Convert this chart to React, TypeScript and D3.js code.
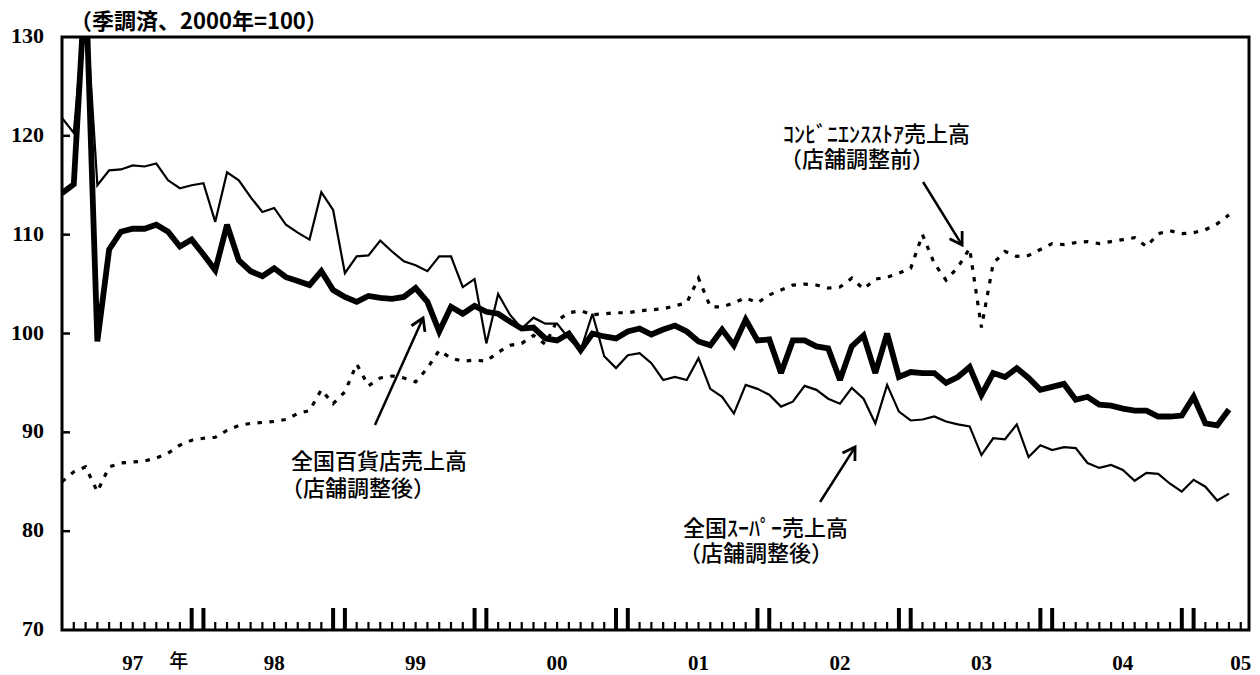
import React from 'react';
import * as d3 from 'd3';

// ---- data (monthly, Jan 1997 = index 0 ... Apr 2005 = index 99) ----
const deptStore: number[] = [
  114.2, 115.1, 136.0, 99.2, 108.5, 110.3, 110.6, 110.6, 111.0, 110.3, 108.8, 109.5,
  108.0, 106.4, 111.0, 107.4, 106.3, 105.8, 106.6, 105.7, 105.3, 104.9, 106.3, 104.4,
  103.7, 103.2, 103.8, 103.6, 103.5, 103.7, 104.6, 103.2, 100.2, 102.7, 102.0, 102.8,
  102.2, 102.0, 101.2, 100.5, 100.6, 99.5, 99.3, 100.0, 98.3, 100.0, 99.7, 99.5,
  100.2, 100.5, 99.9, 100.4, 100.8, 100.2, 99.2, 98.8, 100.4, 98.8, 101.4, 99.3,
  99.4, 96.0, 99.3, 99.3, 98.7, 98.5, 95.3, 98.7, 99.8, 96.0, 100.0, 95.6,
  96.1, 96.0, 96.0, 95.0, 95.6, 96.6, 93.8, 96.0, 95.6, 96.5, 95.5, 94.3,
  94.6, 94.9, 93.3, 93.6, 92.8, 92.7, 92.4, 92.2, 92.2, 91.6, 91.6, 91.7,
  93.6, 90.9, 90.7, 92.3,
];

const supermarket: number[] = [
  121.8, 120.3, 134.0, 115.0, 116.5, 116.6, 117.0, 116.9, 117.2, 115.5, 114.7, 115.0,
  115.2, 111.3, 116.3, 115.5, 113.8, 112.3, 112.7, 111.0, 110.2, 109.5, 114.3, 112.5,
  106.1, 107.8, 107.9, 109.4, 108.3, 107.3, 106.9, 106.3, 107.8, 107.8, 104.7, 105.5,
  99.0, 104.0, 101.9, 100.5, 101.6, 101.0, 101.0, 99.5, 98.3, 102.0, 97.7, 96.5,
  97.8, 98.0, 97.0, 95.3, 95.6, 95.3, 97.5, 94.4, 93.6, 91.9, 94.8, 94.4,
  93.8, 92.6, 93.1, 94.7, 94.3, 93.4, 92.9, 94.5, 93.4, 90.9, 94.8, 92.1,
  91.2, 91.3, 91.6, 91.1, 90.8, 90.6, 87.7, 89.4, 89.3, 90.8, 87.5, 88.7,
  88.2, 88.5, 88.4, 86.9, 86.4, 86.7, 86.2, 85.1, 85.9, 85.8, 84.8, 84.0,
  85.2, 84.5, 83.1, 83.8,
];

const convenience: number[] = [
  85.0, 86.0, 86.5, 84.0, 86.5, 86.9, 87.0, 87.1, 87.4, 87.9, 88.7, 89.2,
  89.4, 89.5, 90.2, 90.7, 90.9, 91.0, 91.1, 91.3, 91.9, 92.2, 94.3, 92.9,
  94.1, 96.9, 94.7, 95.5, 95.7, 95.5, 95.1, 96.5, 98.3, 97.5, 97.2, 97.3,
  97.2, 98.1, 98.8, 99.0, 99.8, 98.9, 101.3, 102.1, 102.3, 101.9, 102.0, 102.1,
  102.1, 102.3, 102.4, 102.5, 102.8, 103.1, 105.6, 102.7, 102.7, 103.1, 103.6, 103.1,
  103.9, 104.4, 104.9, 105.0, 104.9, 104.6, 104.7, 105.6, 104.5, 105.5, 105.7, 106.1,
  106.6, 110.0, 107.1, 105.4, 106.7, 108.6, 100.6, 107.1, 108.3, 107.8, 107.9, 108.5,
  109.1, 109.0, 109.2, 109.3, 109.1, 109.3, 109.5, 109.7, 108.8, 110.1, 110.4, 110.1,
  110.2, 110.5, 111.1, 112.0,
];

const yTickValues: number[] = [80, 90, 100, 110, 120];
const yLabelValues: number[] = [70, 80, 90, 100, 110, 120, 130];
const yearLabels: string[] = ['97', '98', '99', '00', '01', '02', '03', '04', '05'];
const yearLabelMonths: number[] = [6, 18, 30, 42, 54, 66, 78, 90, 100];
const tickMonths: number[] = d3.range(1, 101);

const titleText = '（季調済、2000年=100）';
const yearSuffix = '年';

const annotations = [
  { lines: ['全国百貨店売上高', '（店舗調整後）'], at: [19.43, 86.29], line2dx: -10, gap: 27, from: [26.55, 90.74], to: [30.63, 101.57] },
  { lines: ['全国ｽｰﾊﾟｰ売上高', '（店舗調整後）'], at: [52.69, 79.51], line2dx: -4, gap: 25, from: [64.31, 82.95], to: [67.28, 88.51] },
  { lines: ['ｺﾝﾋﾞﾆｴﾝｽｽﾄｱ売上高', '（店舗調整前）'], at: [61.17, 119.37], line2dx: -3, gap: 25, from: [73.05, 115.33], to: [76.36, 108.95] },
];

const W = 1260;
const H = 675;
const M = { left: 62, right: 11, top: 37, bottom: 45 };

const JP = "'Noto Sans CJK JP', 'Noto Sans CJK SC', sans-serif";
const NUM = "'Liberation Serif', 'DejaVu Serif', serif";

export default function App() {
  const x = d3.scaleLinear().domain([0, 100.7]).range([M.left, W - M.right]);
  const y = d3.scaleLinear().domain([70, 130]).range([H - M.bottom, M.top]);

  const line = d3
    .line<number>()
    .x((_, i) => x(i))
    .y((d) => y(d));

  const x0 = x.range()[0];
  const x1 = x.range()[1];
  const yb = y.range()[0];
  const yt = y.range()[1];

  const isTall = (m: number) => m % 12 === 11 || m % 12 === 0;

  return (
    <div style={{ position: 'absolute', left: 0, top: 0, background: '#fff' }}>
      <svg width={W} height={H} viewBox={`0 0 ${W} ${H}`} style={{ display: 'block', background: '#fff' }}>
        <defs>
          <clipPath id="plot">
            <rect x={x0} y={yt} width={x1 - x0} height={yb - yt} />
          </clipPath>
        </defs>
        <rect x={0} y={0} width={W} height={H} fill="#fff" />

        {/* title */}
        <text x={70} y={29} fontFamily={JP} fontSize={22} fontWeight={700} fill="#000">
          {titleText}
        </text>

        {/* y labels */}
        {yLabelValues.map((v) => (
          <text key={v} x={44} y={y(v) + 6} textAnchor="end" fontFamily={NUM} fontSize={22} fontWeight={700} fill="#000">
            {v}
          </text>
        ))}

        {/* series */}
        <g clipPath="url(#plot)" fill="none">
          <path d={line(convenience) || ''} stroke="#000" strokeWidth={3.2} strokeDasharray="4.5 7.5" />
          <path d={line(supermarket) || ''} stroke="#000" strokeWidth={2.2} strokeLinejoin="miter" strokeMiterlimit={3} />
          <path d={line(deptStore) || ''} stroke="#000" strokeWidth={5.8} strokeLinejoin="miter" strokeMiterlimit={2.5} />
        </g>

        {/* y ticks inside */}
        {yTickValues.map((v) => (
          <line key={v} x1={x0} x2={x0 + 8} y1={y(v)} y2={y(v)} stroke="#000" strokeWidth={2.5} />
        ))}

        {/* x ticks */}
        {tickMonths.map((m) => (
          <line
            key={m}
            x1={x(m)}
            x2={x(m)}
            y1={yb}
            y2={yb - (isTall(m) ? 22 : 8)}
            stroke="#000"
            strokeWidth={isTall(m) ? 4 : 2.2}
          />
        ))}

        {/* frame */}
        <rect x={x0} y={yt} width={x1 - x0} height={yb - yt} fill="none" stroke="#000" strokeWidth={3} />

        {/* x labels */}
        {yearLabels.map((lab, i) => (
          <text
            key={lab}
            x={x(yearLabelMonths[i])}
            y={670}
            textAnchor="middle"
            fontFamily={NUM}
            fontSize={21}
            fontWeight={700}
            fill="#000"
          >
            {lab}
          </text>
        ))}
        <text x={x(yearLabelMonths[0]) + 46} y={668} textAnchor="middle" fontFamily={JP} fontSize={19} fontWeight={500} fill="#000">
          {yearSuffix}
        </text>

        {/* annotations */}
        {annotations.map((a, i) => {
          const tx = x(a.at[0]);
          const ty = y(a.at[1]);
          const fx = x(a.from[0]);
          const fy = y(a.from[1]);
          const hx = x(a.to[0]);
          const hy = y(a.to[1]);
          const ang = Math.atan2(fy - hy, fx - hx);
          const L = 14;
          const spread = (32 * Math.PI) / 180;
          const p1 = [hx + L * Math.cos(ang + spread), hy + L * Math.sin(ang + spread)];
          const p2 = [hx + L * Math.cos(ang - spread), hy + L * Math.sin(ang - spread)];
          return (
            <g key={i}>
              <text fontFamily={JP} fontSize={22} fontWeight={500} fill="#000">
                <tspan x={tx} y={ty}>{a.lines[0]}</tspan>
                <tspan x={tx + a.line2dx} y={ty + a.gap}>{a.lines[1]}</tspan>
              </text>
              <line x1={fx} y1={fy} x2={hx} y2={hy} stroke="#000" strokeWidth={2.5} />
              <polyline
                points={`${p1[0]},${p1[1]} ${hx},${hy} ${p2[0]},${p2[1]}`}
                fill="none"
                stroke="#000"
                strokeWidth={2.8}
                strokeLinejoin="miter"
              />
            </g>
          );
        })}
      </svg>
    </div>
  );
}
